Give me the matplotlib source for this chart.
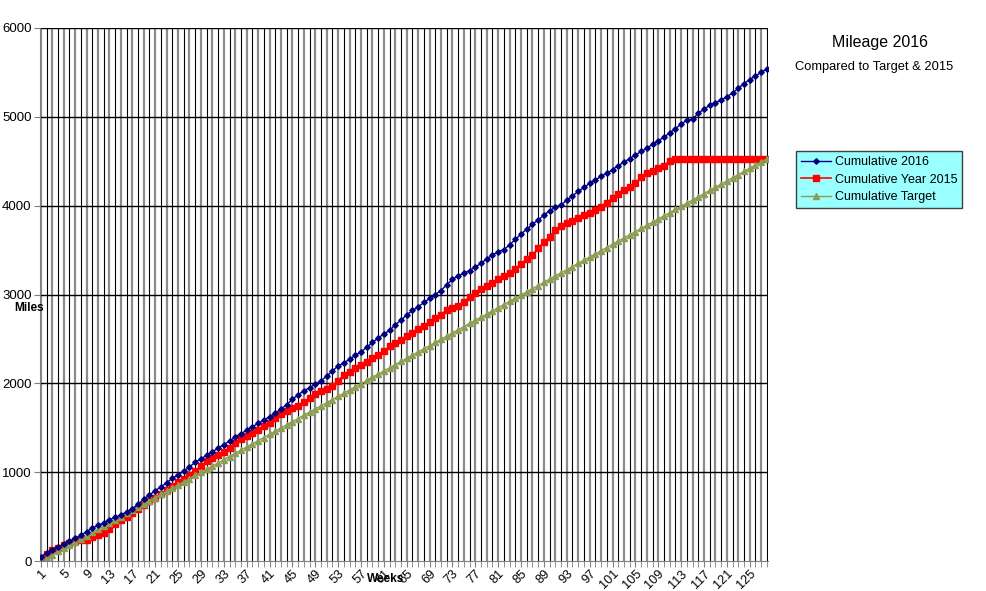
import numpy as np
import matplotlib
matplotlib.use('Agg')
import matplotlib.pyplot as plt

plt.rcParams['font.family'] = ['Liberation Sans', 'DejaVu Sans']

# week numbers
weeks = list(range(1, 129))

# cumulative miles 2016
cum_2016 = [45, 95, 125, 160, 190, 225, 255, 290, 330, 370,
            400, 430, 465, 490, 520, 550, 590, 640, 695, 745,
            790, 835, 880, 930, 970, 1010, 1060, 1110, 1150, 1190,
            1230, 1270, 1310, 1350, 1395, 1435, 1470, 1510, 1550, 1585,
            1625, 1665, 1710, 1760, 1820, 1870, 1915, 1950, 1990, 2030,
            2080, 2140, 2195, 2230, 2270, 2315, 2355, 2405, 2460, 2510,
            2555, 2595, 2660, 2710, 2770, 2820, 2860, 2910, 2955, 3000,
            3045, 3110, 3170, 3210, 3240, 3270, 3310, 3350, 3400, 3445,
            3480, 3505, 3560, 3620, 3680, 3735, 3790, 3840, 3890, 3945,
            3980, 4010, 4060, 4110, 4160, 4205, 4250, 4290, 4330, 4365,
            4405, 4450, 4490, 4530, 4570, 4610, 4645, 4690, 4730, 4770,
            4820, 4865, 4920, 4960, 4975, 5040, 5085, 5130, 5160, 5190,
            5225, 5270, 5320, 5375, 5420, 5460, 5500, 5540]

# cumulative miles 2015
cum_2015 = [30, 80, 125, 150, 180, 205, 225, 235, 240, 270,
            295, 320, 360, 415, 460, 500, 540, 580, 625, 670,
            710, 755, 800, 845, 885, 925, 965, 1010, 1065, 1125,
            1160, 1195, 1225, 1270, 1330, 1375, 1410, 1440, 1470, 1515,
            1550, 1605, 1650, 1690, 1720, 1750, 1790, 1830, 1880, 1910,
            1940, 1965, 2030, 2090, 2130, 2170, 2205, 2245, 2280, 2320,
            2365, 2415, 2455, 2490, 2530, 2570, 2610, 2650, 2690, 2730,
            2765, 2830, 2850, 2865, 2920, 2970, 3020, 3060, 3100, 3135,
            3170, 3205, 3240, 3290, 3345, 3395, 3445, 3520, 3590, 3650,
            3730, 3770, 3800, 3830, 3860, 3890, 3915, 3950, 3990, 4035,
            4085, 4130, 4175, 4215, 4250, 4320, 4370, 4395, 4420, 4450,
            4505, 4525, 4530, 4530, 4530, 4530, 4530, 4530, 4530, 4530,
            4530, 4530, 4530, 4530, 4530, 4530, 4530, 4530]

# cumulative target
cum_target = [0, 36, 71, 107, 143, 178, 214, 250, 285, 321,
              357, 392, 428, 463, 499, 535, 570, 606, 642, 677,
              713, 749, 784, 820, 856, 891, 927, 963, 998, 1034,
              1069, 1105, 1141, 1176, 1212, 1248, 1283, 1319, 1355, 1390,
              1426, 1462, 1497, 1533, 1569, 1604, 1640, 1675, 1711, 1747,
              1782, 1818, 1854, 1889, 1925, 1961, 1996, 2032, 2068, 2103,
              2139, 2174, 2210, 2246, 2281, 2317, 2353, 2388, 2424, 2460,
              2495, 2531, 2567, 2602, 2638, 2674, 2709, 2745, 2780, 2816,
              2852, 2887, 2923, 2959, 2994, 3030, 3066, 3101, 3137, 3173,
              3208, 3244, 3280, 3315, 3351, 3386, 3422, 3458, 3493, 3529,
              3565, 3600, 3636, 3672, 3707, 3743, 3779, 3814, 3850, 3885,
              3921, 3957, 3992, 4028, 4064, 4099, 4135, 4171, 4206, 4242,
              4278, 4313, 4349, 4385, 4420, 4456, 4492, 4527]

y_ticks = [0, 1000, 2000, 3000, 4000, 5000, 6000]
x_labels = weeks[::4]

fig = plt.figure(figsize=(9.87, 5.91), dpi=100)
ax = fig.add_axes([40 / 987, 30 / 591, 728 / 987, 533 / 591])

# vertical grid, one line per week, alternating grey / black
for w in weeks:
    if w % 2 == 1:
        ax.axvline(w, color='#8c8c8c', lw=1.6, zorder=0)
    else:
        ax.axvline(w, color='black', lw=0.8, zorder=0)
for v in y_ticks[1:]:
    ax.axhline(v, color='black', lw=1.0, zorder=0)

ax.plot(weeks, cum_2016, color='#000080', lw=1, marker='D', ms=2.8,
        label='Cumulative 2016', zorder=3)
ax.plot(weeks, cum_2015, color='#ff0000', lw=1.2, marker='s', ms=5,
        label='Cumulative Year 2015', zorder=2)
ax.plot(weeks, cum_target, color='#8c9d55', lw=1, marker='^', ms=4.5,
        label='Cumulative Target', zorder=2)

ax.set_xlim(0.85, 128.2)
ax.set_ylim(0, 6000)
ax.set_yticks(y_ticks)
ax.set_yticklabels([str(v) for v in y_ticks], fontsize=9.5)
ax.set_xticks(weeks, minor=True)
ax.set_xticks(x_labels)
ax.set_xticklabels([str(w) for w in x_labels], rotation=45, ha='right',
                   rotation_mode='anchor', fontsize=9.2)
ax.tick_params(axis='both', which='both', color='#808080', length=4,
               direction='out')
ax.tick_params(axis='x', which='both', length=4, pad=1)
ax.tick_params(axis='y', pad=2)
for s in ['left', 'bottom']:
    ax.spines[s].set_color('#808080')
for s in ['top', 'right']:
    ax.spines[s].set_visible(False)

fig.text(14 / 987, 1 - 308 / 591, 'Miles', fontsize=8.5, fontweight='bold',
         ha='left', va='center')
fig.text(386 / 987, 1 - 579 / 591, 'Weeks', fontsize=8.5, fontweight='bold',
         ha='center', va='center')

fig.text(880 / 987, 1 - 42 / 591, 'Mileage 2016', fontsize=11.5,
         ha='center', va='center')
fig.text(874 / 987, 1 - 67 / 591, 'Compared to Target & 2015', fontsize=9.3,
         ha='center', va='center')

leg = fig.legend(loc='upper left', bbox_to_anchor=(796 / 987, 1 - 151 / 591),
                 fontsize=9.0, frameon=True, fancybox=False, borderpad=0.4,
                 labelspacing=0.45, handlelength=2.4, handletextpad=0.3,
                 borderaxespad=0)
leg.get_frame().set_facecolor('#99ffff')
leg.get_frame().set_edgecolor('#404040')
leg.get_frame().set_alpha(1)

fig.savefig('out.png', dpi=100)
